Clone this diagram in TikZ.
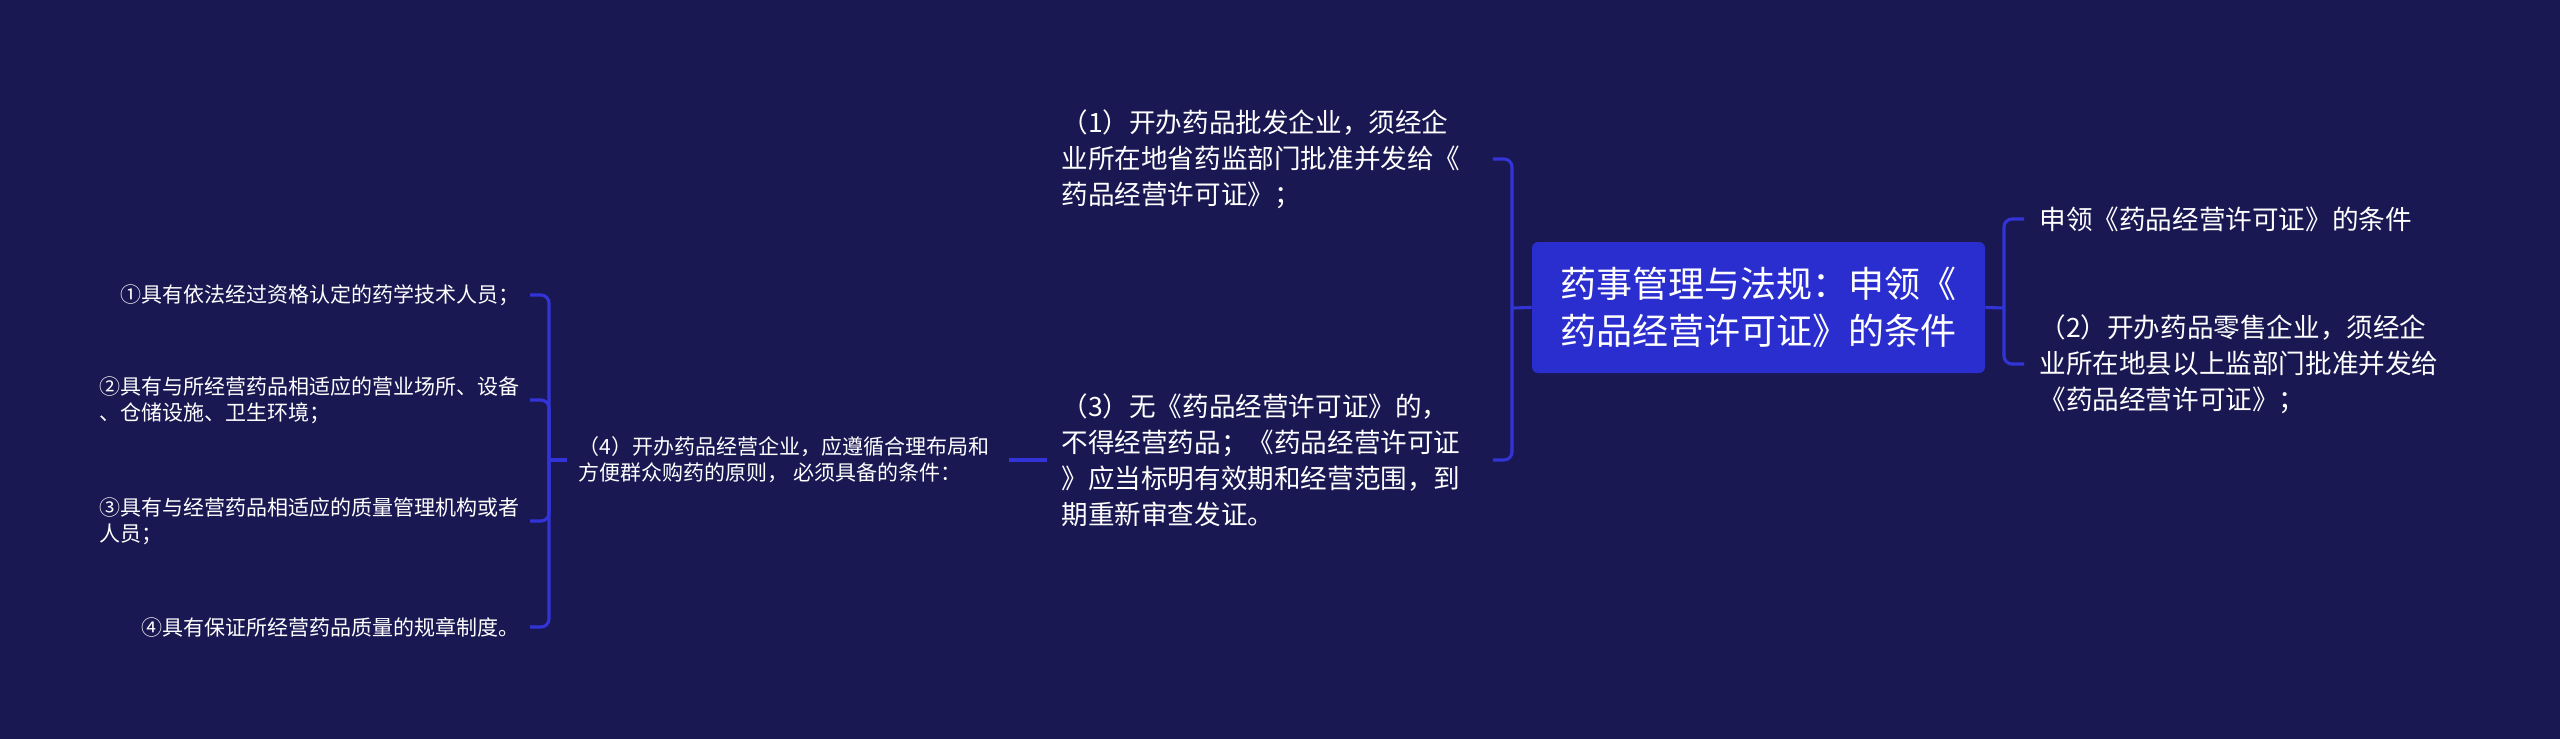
\documentclass[tikz,border=0pt]{standalone}
\usepackage{fontspec}
\setmainfont{Noto Sans CJK SC}
\definecolor{bgnavy}{RGB}{26,24,82}
\definecolor{linkblue}{RGB}{50,52,215}
\definecolor{rootblue}{RGB}{43,46,206}

\begin{document}
\begin{tikzpicture}[x=0.5pt, y=-0.5pt,
    link/.style={draw=linkblue, line width=1.55pt, rounded corners=4pt},
    rootbox/.style={fill=rootblue, rounded corners=3pt, text=white, align=left,
        font=\fontsize{18}{23.5}\selectfont, minimum width=226.5pt, minimum height=65.5pt, inner sep=0pt},
    midtext/.style={text=white, align=left, font=\fontsize{13.3}{18}\selectfont, inner sep=0pt},
    smalltext/.style={text=white, align=left, font=\fontsize{10.5}{13}\selectfont, inner sep=0pt}]
    \fill[bgnavy] (0,0) rectangle (2560,739);
    \useasboundingbox (0,0) rectangle (2560,739);

    \node[rootbox] (root) at (1758.5,307.5) {药事管理与法规：申领《\\药品经营许可证》的条件};

    \node[midtext, anchor=west] (permit) at (2039,219) {申领《药品经营许可证》的条件};
    \node[midtext, anchor=west] (retail) at (2039,364) {（2）开办药品零售企业，须经企\\业所在地县以上监部门批准并发给\\《药品经营许可证》；};

    \node[midtext, anchor=west] (wholesale) at (1061,159) {（1）开办药品批发企业，须经企\\业所在地省药监部门批准并发给《\\药品经营许可证》；};
    \node[midtext, anchor=west] (nolicence) at (1061,460) {（3）无《药品经营许可证》的，\\不得经营药品；《药品经营许可证\\》应当标明有效期和经营范围，到\\期重新审查发证。};

    \node[smalltext, anchor=west] (opening) at (578,460) {（4）开办药品经营企业，应遵循合理布局和\\方便群众购药的原则， 必须具备的条件：};
    \node[smalltext, anchor=east] (staff) at (520,295) {①具有依法经过资格认定的药学技术人员；};
    \node[smalltext, anchor=east] (premises) at (520,400) {②具有与所经营药品相适应的营业场所、设备\\、仓储设施、卫生环境；};
    \node[smalltext, anchor=east] (quality) at (520,521) {③具有与经营药品相适应的质量管理机构或者\\人员；};
    \node[smalltext, anchor=east] (rules) at (520,627) {④具有保证所经营药品质量的规章制度。};

    \coordinate (rootR) at (2004,308);
    \coordinate (rootL) at (1512,308);
    \coordinate (openL) at (549,460);

    \draw[link] (root.east) -- (rootR);
    \draw[link] (rootR) |- ([xshift=-7.5pt]permit.west);
    \draw[link] (rootR) |- ([xshift=-7.5pt]retail.west);
    \draw[link] (root.west) -- (rootL);
    \draw[link] (rootL) |- ([xshift=16pt]wholesale.east);
    \draw[link] (rootL) |- ([xshift=16pt]nolicence.east);
    \draw[link] ([xshift=-7pt]nolicence.west) -- ([xshift=10pt]opening.east);
    \draw[link] ([xshift=-5.5pt]opening.west) -- (openL);
    \foreach \n in {staff,premises,quality,rules}
        \draw[link] (openL) |- ([xshift=5pt]\n.east);
\end{tikzpicture}
\end{document}
